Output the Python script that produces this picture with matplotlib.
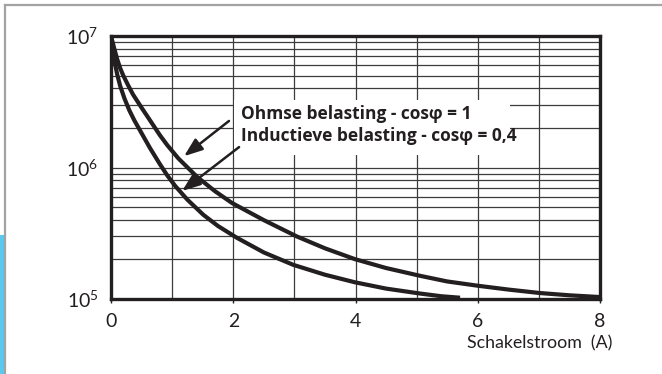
import numpy as np
import matplotlib.pyplot as plt
from matplotlib.patches import Rectangle
from matplotlib.ticker import MultipleLocator, LogLocator, FixedLocator

plt.rcParams['font.family'] = ['Lato', 'DejaVu Sans']
plt.rcParams['mathtext.default'] = 'regular'

# Levensduur (schakelingen) tegen schakelstroom
stroom_ohms = [0, 0.05, 0.1, 0.15, 0.2, 0.28, 0.36, 0.5, 0.65, 0.8, 0.92, 1.1, 1.41, 1.7,
               1.98, 2.5, 3.04, 3.5, 3.99, 4.5, 5.06, 5.5, 6.01, 6.5, 7.02, 7.5, 8.0]
cycli_ohms = [1.0e7, 8.13e6, 6.68e6, 5.69e6, 5.01e6, 4.22e6, 3.59e6, 2.85e6, 2.24e6, 1.76e6,
              1.48e6, 1.175e6, 8.47e5, 6.61e5, 5.37e5, 3.98e5, 2.99e5, 2.43e5, 2.01e5,
              1.72e5, 1.50e5, 1.36e5, 1.26e5, 1.18e5, 1.11e5, 1.067e5, 1.035e5]

stroom_ind = [0, 0.03, 0.065, 0.1, 0.15, 0.22, 0.3, 0.38, 0.47, 0.64, 0.8, 0.92, 1.05,
              1.25, 1.51, 1.75, 2.06, 2.5, 2.98, 3.5, 3.99, 4.5, 5.06, 5.4, 5.71]
cycli_ind = [1.0e7, 7.76e6, 6.17e6, 5.13e6, 4.17e6, 3.35e6, 2.72e6, 2.29e6, 1.93e6, 1.40e6,
             1.06e6, 8.71e5, 7.24e5, 5.69e5, 4.37e5, 3.59e5, 2.92e5, 2.26e5, 1.82e5,
             1.53e5, 1.34e5, 1.20e5, 1.10e5, 1.05e5, 1.023e5]

x_ticks = [0, 2, 4, 6, 8]
y_ticks = [1e5, 1e6, 1e7]
y_labels = [r'$10^{5}$', r'$10^{6}$', r'$10^{7}$']

label_ohms = 'Ohmse belasting - cosφ = 1'
label_ind = 'Inductieve belasting - cosφ = 0,4'
x_title = 'Schakelstroom  (A)'

ink = '#231f20'

fig = plt.figure(figsize=(6.62, 3.74), dpi=100)
ax = fig.add_axes([0.1677, 0.2005, 0.7387, 0.7032])

ax.set_yscale('log')
ax.set_xlim(0, 8)
ax.set_ylim(1e5, 1e7)

# raster
ax.xaxis.set_major_locator(FixedLocator(x_ticks))
ax.xaxis.set_minor_locator(MultipleLocator(1))
ax.yaxis.set_major_locator(FixedLocator(y_ticks))
ax.yaxis.set_minor_locator(LogLocator(base=10, subs=np.arange(2, 10)))
ax.grid(True, which='both', axis='both', color='#3c3c3c', lw=0.9, zorder=1)
ax.set_axisbelow(True)

ax.set_xticklabels([str(t) for t in x_ticks])
ax.set_yticklabels(y_labels)
ax.yaxis.set_minor_formatter(plt.NullFormatter())
ax.tick_params(axis='x', which='major', direction='out', length=3, width=1,
               color=ink, labelsize=14, pad=7, labelcolor=ink)
ax.tick_params(axis='x', which='minor', length=0)
ax.tick_params(axis='y', which='both', length=0, labelsize=14, pad=9, labelcolor=ink)

for s in ax.spines.values():
    s.set_linewidth(2.4)
    s.set_color(ink)
    s.set_zorder(5)

# witte achtergrond voor de tekst
ax.add_patch(Rectangle((2.02, 1.245e6), 6.53 - 2.02, 3.26e6 - 1.245e6,
                       facecolor='white', edgecolor='none', zorder=2))

ax.plot(stroom_ohms, cycli_ohms, color=ink, lw=3.0, solid_joinstyle='round',
        solid_capstyle='butt', zorder=3)
ax.plot(stroom_ind, cycli_ind, color=ink, lw=3.0, solid_joinstyle='round',
        solid_capstyle='butt', zorder=3)

tekst = dict(fontsize=12.5, fontweight='bold', color=ink, va='baseline', ha='left',
             zorder=4, family=['Open Sans', 'DejaVu Sans'])
ax.text(2.13, 2.34e6, label_ohms, **tekst)
ax.text(2.13, 1.59e6, label_ind, **tekst)

pijl = dict(arrowstyle='-|>,head_length=0.8,head_width=0.3', color=ink, lw=1.8,
            shrinkA=0, shrinkB=0, mutation_scale=14)
ax.annotate('', xy=(1.195, 1.22e6), xytext=(1.93, 2.26e6), arrowprops=pijl, zorder=4)
ax.annotate('', xy=(1.162, 6.63e5), xytext=(2.095, 1.43e6), arrowprops=pijl, zorder=4)

fig.text(612 / 662, 1 - 343 / 374, x_title, fontsize=12.8, color=ink,
         ha='right', va='center')

# kader van de pagina
fig.add_artist(plt.Line2D([5 / 662, 1], [1 - 5 / 374, 1 - 5 / 374], color='#a3a3a3', lw=1.6))
fig.add_artist(plt.Line2D([5 / 662, 5 / 662], [0, 1 - 5 / 374], color='#a3a3a3', lw=1.6))
fig.add_artist(Rectangle((0, 0), 4 / 662, 1 - 235 / 374, transform=fig.transFigure,
                         facecolor='#5bc8ee', edgecolor='none'))

fig.savefig('out.png', dpi=100)
